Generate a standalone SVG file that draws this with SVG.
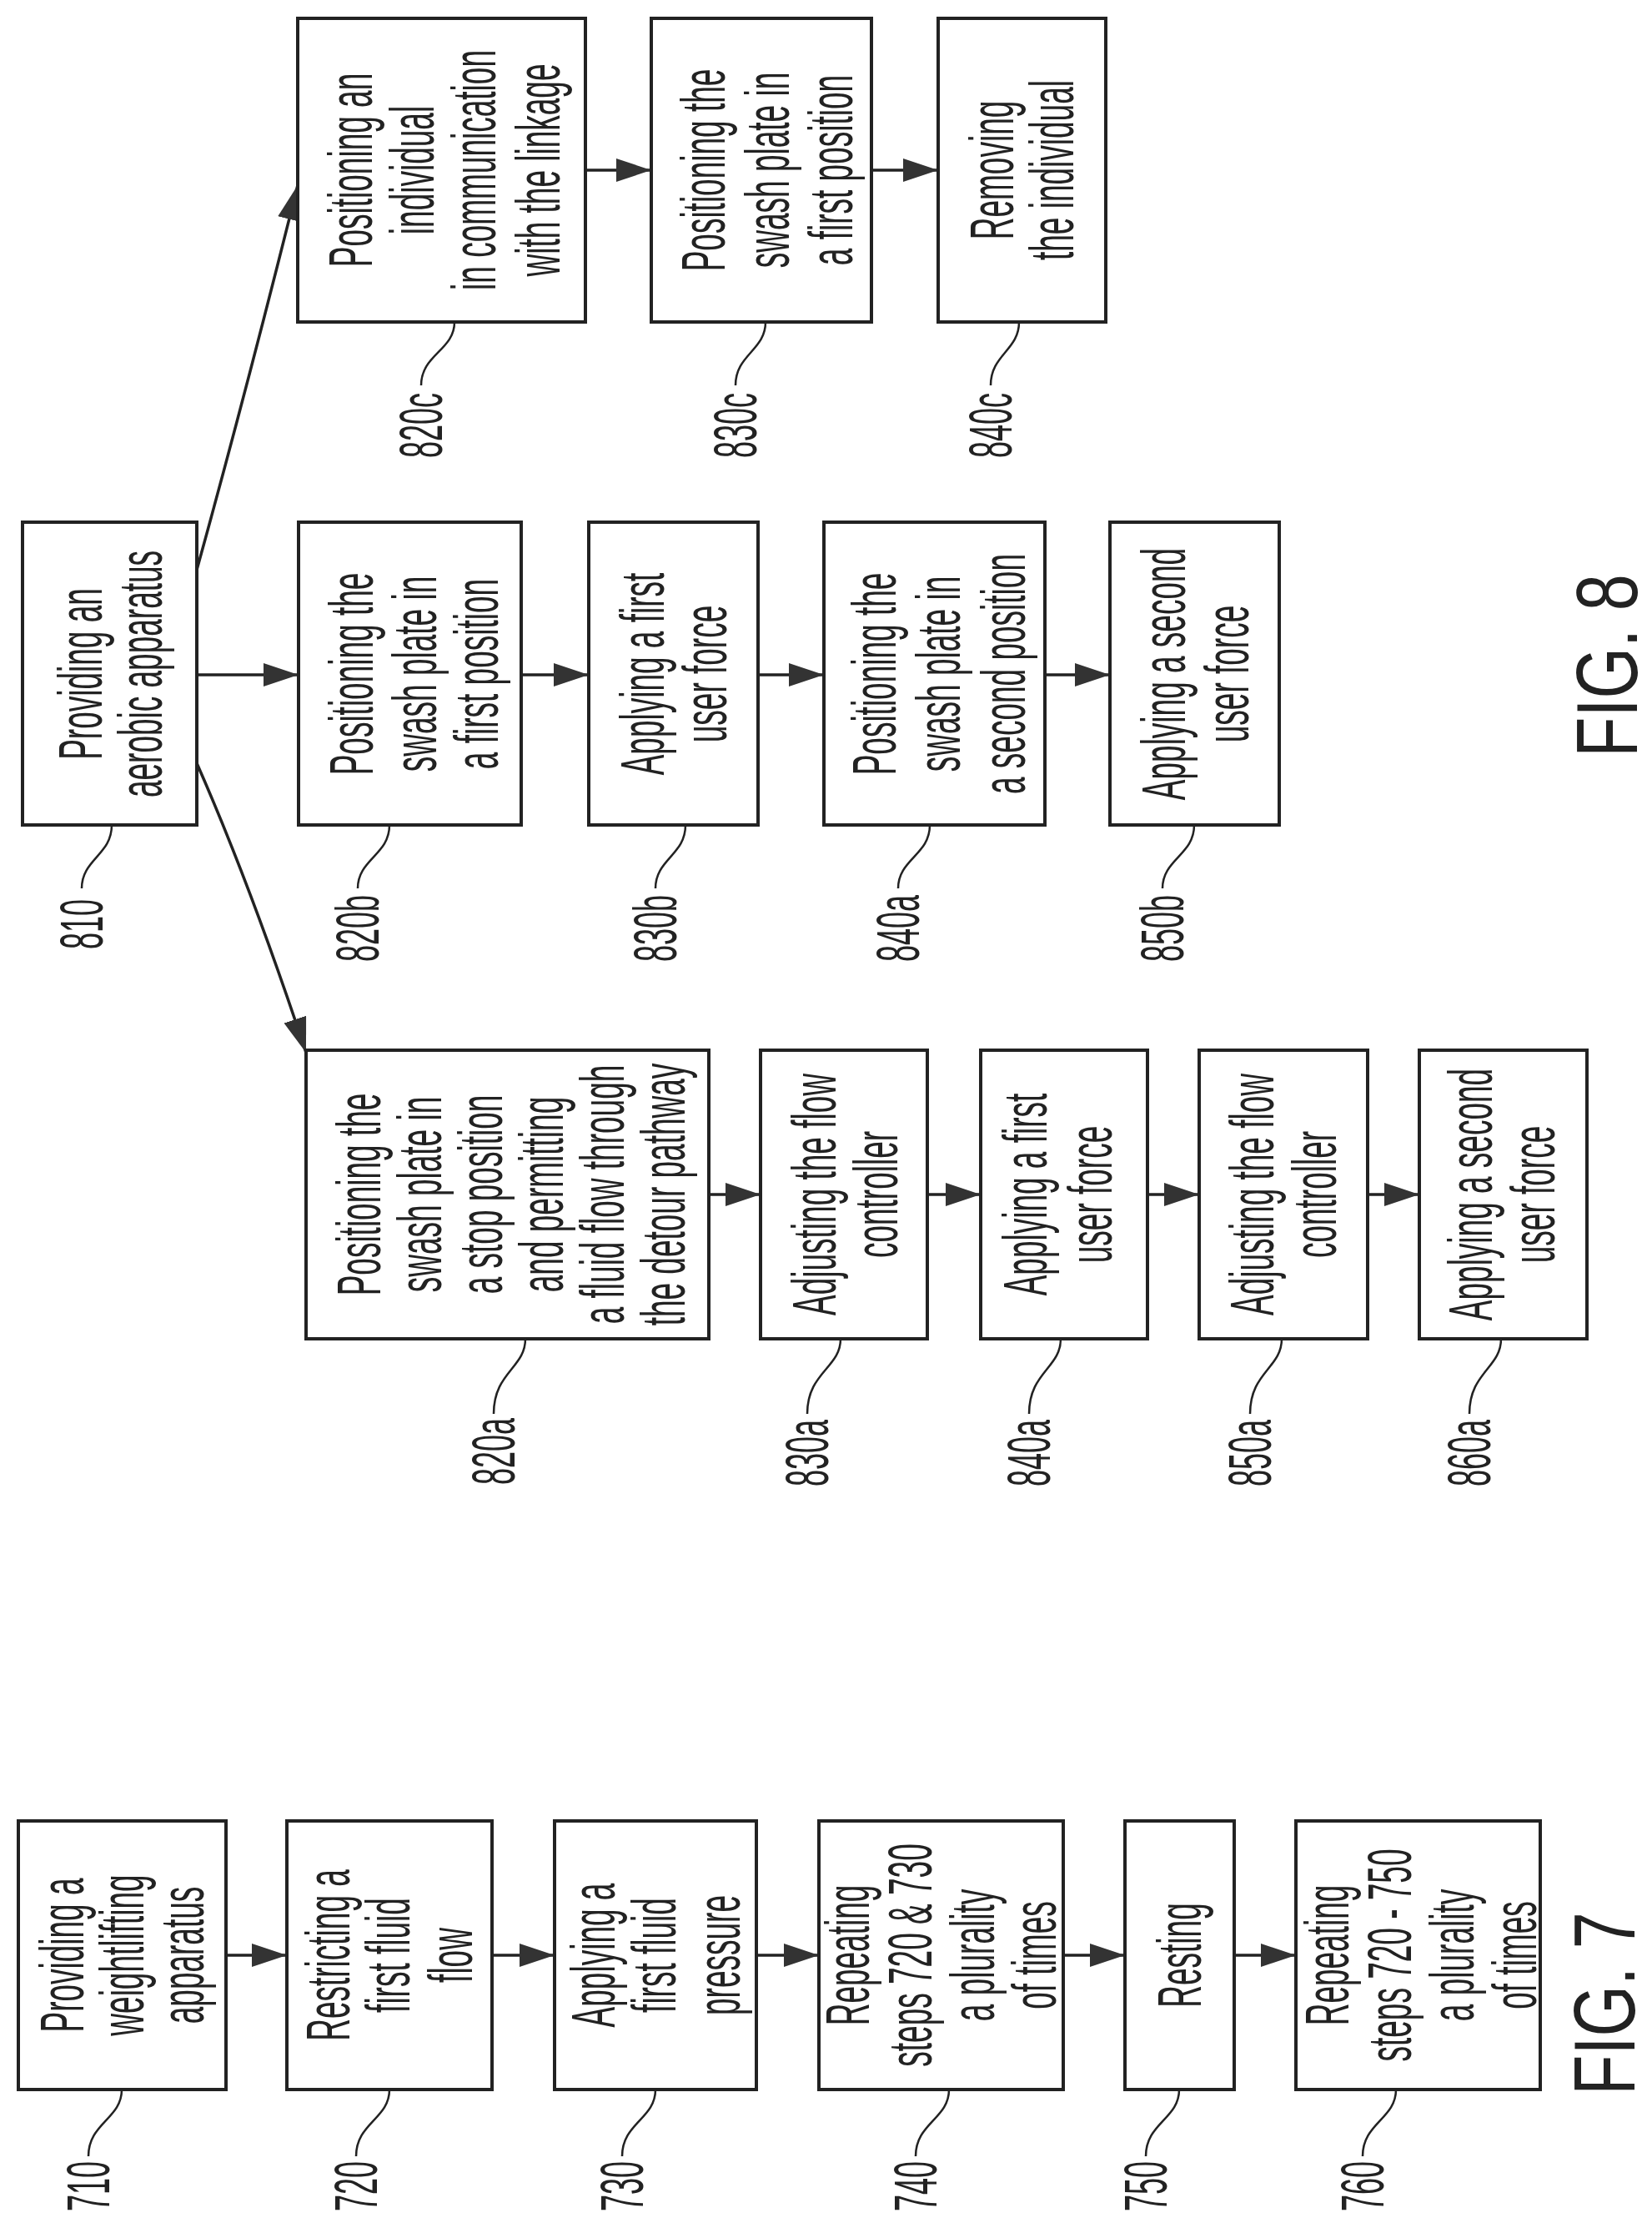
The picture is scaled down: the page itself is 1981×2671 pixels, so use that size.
<svg xmlns="http://www.w3.org/2000/svg" width="1981" height="2671" viewBox="0 0 1981 2671">
<style>
.b{fill:#fff;stroke:#222;stroke-width:4}
.t{font-family:"Liberation Sans",Arial,sans-serif;font-size:74px;fill:#222;text-anchor:middle;dominant-baseline:central}
.l{font-family:"Liberation Sans",Arial,sans-serif;font-size:72px;fill:#222;text-anchor:middle;dominant-baseline:central}
.f{font-family:"Liberation Sans",Arial,sans-serif;font-size:104px;fill:#222;text-anchor:middle;dominant-baseline:central}
.c{fill:none;stroke:#222;stroke-width:3.5}
.ld{fill:none;stroke:#222;stroke-width:2.5}
</style>
<defs>
<marker id="ah" markerUnits="userSpaceOnUse" markerWidth="44" markerHeight="30" refX="42" refY="14" orient="auto">
<path d="M0,0 L42,14 L0,28 Z" fill="#333"/>
</marker>
</defs>
<rect width="1981" height="2671" fill="#fff"/>
<g id="connectors">
<path class="c" marker-end="url(#ah)" d="M271 2344 H344"/>
<path class="c" marker-end="url(#ah)" d="M590 2344 H665"/>
<path class="c" marker-end="url(#ah)" d="M907 2344 H982"/>
<path class="c" marker-end="url(#ah)" d="M1275 2344 H1349"/>
<path class="c" marker-end="url(#ah)" d="M1480 2344 H1554"/>
<path class="c" marker-end="url(#ah)" d="M236 809 H358"/>
<path class="c" marker-end="url(#ah)" d="M625 809 H706"/>
<path class="c" marker-end="url(#ah)" d="M909 809 H988"/>
<path class="c" marker-end="url(#ah)" d="M1253 809 H1331"/>
<path class="c" marker-end="url(#ah)" d="M702 204 H781"/>
<path class="c" marker-end="url(#ah)" d="M1045 204 H1125"/>
<path class="c" marker-end="url(#ah)" d="M850 1432 H912"/>
<path class="c" marker-end="url(#ah)" d="M1112 1432 H1176"/>
<path class="c" marker-end="url(#ah)" d="M1376 1432 H1438"/>
<path class="c" marker-end="url(#ah)" d="M1640 1432 H1702"/>
<path class="c" marker-end="url(#ah)" d="M236 683 Q295 470 357 222"/>
<path class="c" marker-end="url(#ah)" d="M236 915 Q300 1060 367 1262"/>
</g>
<g id="n710"><rect class="b" x="22" y="2183" width="249" height="322"/>
<text class="t" transform="translate(74,2344) rotate(-90) scale(0.5,1)">Providing a</text>
<text class="t" transform="translate(146,2344) rotate(-90) scale(0.5,1)">weightlifting</text>
<text class="t" transform="translate(218,2344) rotate(-90) scale(0.5,1)">apparatus</text>
<path class="ld" d="M146 2505 C146 2540 106 2545 106 2585"/>
<text class="l" transform="translate(106,2621) rotate(-90) scale(0.5,1)">710</text></g>
<g id="n720"><rect class="b" x="344" y="2183" width="246" height="322"/>
<text class="t" transform="translate(393,2344) rotate(-90) scale(0.5,1)">Restricting a</text>
<text class="t" transform="translate(465,2344) rotate(-90) scale(0.5,1)">first fluid</text>
<text class="t" transform="translate(540,2344) rotate(-90) scale(0.5,1)">flow</text>
<path class="ld" d="M467 2505 C467 2540 427 2545 427 2585"/>
<text class="l" transform="translate(427,2621) rotate(-90) scale(0.5,1)">720</text></g>
<g id="n730"><rect class="b" x="665" y="2183" width="242" height="322"/>
<text class="t" transform="translate(711,2344) rotate(-90) scale(0.5,1)">Applying a</text>
<text class="t" transform="translate(784,2344) rotate(-90) scale(0.5,1)">first fluid</text>
<text class="t" transform="translate(861,2344) rotate(-90) scale(0.5,1)">pressure</text>
<path class="ld" d="M786 2505 C786 2540 746 2545 746 2585"/>
<text class="l" transform="translate(746,2621) rotate(-90) scale(0.5,1)">730</text></g>
<g id="n740"><rect class="b" x="982" y="2183" width="293" height="322"/>
<text class="t" transform="translate(1016,2344) rotate(-90) scale(0.5,1)">Repeating</text>
<text class="t" transform="translate(1091,2344) rotate(-90) scale(0.5,1)">steps 720 &amp; 730</text>
<text class="t" transform="translate(1166,2344) rotate(-90) scale(0.5,1)">a plurality</text>
<text class="t" transform="translate(1240,2344) rotate(-90) scale(0.5,1)">of times</text>
<path class="ld" d="M1138 2505 C1138 2540 1098 2545 1098 2585"/>
<text class="l" transform="translate(1098,2621) rotate(-90) scale(0.5,1)">740</text></g>
<g id="n750"><rect class="b" x="1349" y="2183" width="131" height="322"/>
<text class="t" transform="translate(1414,2344) rotate(-90) scale(0.5,1)">Resting</text>
<path class="ld" d="M1414 2505 C1414 2540 1374 2545 1374 2585"/>
<text class="l" transform="translate(1374,2621) rotate(-90) scale(0.5,1)">750</text></g>
<g id="n760"><rect class="b" x="1554" y="2183" width="293" height="322"/>
<text class="t" transform="translate(1591,2344) rotate(-90) scale(0.5,1)">Repeating</text>
<text class="t" transform="translate(1666,2344) rotate(-90) scale(0.5,1)">steps 720 - 750</text>
<text class="t" transform="translate(1741,2344) rotate(-90) scale(0.5,1)">a plurality</text>
<text class="t" transform="translate(1816,2344) rotate(-90) scale(0.5,1)">of times</text>
<path class="ld" d="M1674 2505 C1674 2540 1634 2545 1634 2585"/>
<text class="l" transform="translate(1634,2621) rotate(-90) scale(0.5,1)">760</text></g>
<text class="f" transform="translate(1924,2402) rotate(-90) scale(0.76,1)">FIG. 7</text>
<g id="n810"><rect class="b" x="27" y="626" width="209" height="363"/>
<text class="t" transform="translate(96,808) rotate(-90) scale(0.5,1)">Providing an</text>
<text class="t" transform="translate(168,808) rotate(-90) scale(0.5,1)">aerobic apparatus</text>
<path class="ld" d="M134 989 C134 1025 98 1030 98 1065"/>
<text class="l" transform="translate(98,1108) rotate(-90) scale(0.5,1)">810</text></g>
<g id="n820b"><rect class="b" x="358" y="626" width="267" height="363"/>
<text class="t" transform="translate(421,808) rotate(-90) scale(0.5,1)">Positioning the</text>
<text class="t" transform="translate(497,808) rotate(-90) scale(0.5,1)">swash plate in</text>
<text class="t" transform="translate(571,808) rotate(-90) scale(0.5,1)">a first position</text>
<path class="ld" d="M467 989 C467 1025 429 1030 429 1065"/>
<text class="l" transform="translate(429,1113) rotate(-90) scale(0.5,1)">820b</text></g>
<g id="n830b"><rect class="b" x="706" y="626" width="203" height="363"/>
<text class="t" transform="translate(770,808) rotate(-90) scale(0.5,1)">Applying a first</text>
<text class="t" transform="translate(845,808) rotate(-90) scale(0.5,1)">user force</text>
<path class="ld" d="M822 989 C822 1025 786 1030 786 1065"/>
<text class="l" transform="translate(786,1113) rotate(-90) scale(0.5,1)">830b</text></g>
<g id="n840b"><rect class="b" x="988" y="626" width="265" height="363"/>
<text class="t" transform="translate(1048,808) rotate(-90) scale(0.5,1)">Positioning the</text>
<text class="t" transform="translate(1125,808) rotate(-90) scale(0.5,1)">swash plate in</text>
<text class="t" transform="translate(1203,808) rotate(-90) scale(0.5,1)">a second position</text>
<path class="ld" d="M1115 989 C1115 1025 1077 1030 1077 1065"/>
<text class="l" transform="translate(1077,1113) rotate(-90) scale(0.5,1)">840a</text></g>
<g id="n850b"><rect class="b" x="1331" y="626" width="203" height="363"/>
<text class="t" transform="translate(1395,808) rotate(-90) scale(0.5,1)">Applying a second</text>
<text class="t" transform="translate(1471,808) rotate(-90) scale(0.5,1)">user force</text>
<path class="ld" d="M1432 989 C1432 1025 1394 1030 1394 1065"/>
<text class="l" transform="translate(1394,1113) rotate(-90) scale(0.5,1)">850b</text></g>
<g id="n820a"><rect class="b" x="367" y="1259" width="483" height="346"/>
<text class="t" transform="translate(430,1432) rotate(-90) scale(0.5,1)">Positioning the</text>
<text class="t" transform="translate(503,1432) rotate(-90) scale(0.5,1)">swash plate in</text>
<text class="t" transform="translate(576,1432) rotate(-90) scale(0.5,1)">a stop position</text>
<text class="t" transform="translate(649,1432) rotate(-90) scale(0.5,1)">and permitting</text>
<text class="t" transform="translate(722,1432) rotate(-90) scale(0.5,1)">a fluid flow through</text>
<text class="t" transform="translate(795,1432) rotate(-90) scale(0.5,1)">the detour pathway</text>
<path class="ld" d="M630 1605 C630 1640 592 1645 592 1695"/>
<text class="l" transform="translate(592,1740) rotate(-90) scale(0.5,1)">820a</text></g>
<g id="n830a"><rect class="b" x="912" y="1259" width="200" height="346"/>
<text class="t" transform="translate(976,1432) rotate(-90) scale(0.5,1)">Adjusting the flow</text>
<text class="t" transform="translate(1050,1432) rotate(-90) scale(0.5,1)">controller</text>
<path class="ld" d="M1008 1605 C1008 1640 968 1645 968 1695"/>
<text class="l" transform="translate(968,1742) rotate(-90) scale(0.5,1)">830a</text></g>
<g id="n840a"><rect class="b" x="1176" y="1259" width="200" height="346"/>
<text class="t" transform="translate(1229,1432) rotate(-90) scale(0.5,1)">Applying a first</text>
<text class="t" transform="translate(1307,1432) rotate(-90) scale(0.5,1)">user force</text>
<path class="ld" d="M1272 1605 C1272 1640 1234 1645 1234 1695"/>
<text class="l" transform="translate(1234,1742) rotate(-90) scale(0.5,1)">840a</text></g>
<g id="n850a"><rect class="b" x="1438" y="1259" width="202" height="346"/>
<text class="t" transform="translate(1501,1432) rotate(-90) scale(0.5,1)">Adjusting the flow</text>
<text class="t" transform="translate(1576,1432) rotate(-90) scale(0.5,1)">controller</text>
<path class="ld" d="M1537 1605 C1537 1640 1499 1645 1499 1695"/>
<text class="l" transform="translate(1499,1742) rotate(-90) scale(0.5,1)">850a</text></g>
<g id="n860a"><rect class="b" x="1702" y="1259" width="201" height="346"/>
<text class="t" transform="translate(1763,1432) rotate(-90) scale(0.5,1)">Applying a second</text>
<text class="t" transform="translate(1838,1432) rotate(-90) scale(0.5,1)">user force</text>
<path class="ld" d="M1800 1605 C1800 1640 1762 1645 1762 1695"/>
<text class="l" transform="translate(1762,1742) rotate(-90) scale(0.5,1)">860a</text></g>
<g id="n820c"><rect class="b" x="357" y="22" width="345" height="364"/>
<text class="t" transform="translate(420,204) rotate(-90) scale(0.5,1)">Positioning an</text>
<text class="t" transform="translate(494,204) rotate(-90) scale(0.5,1)">individual</text>
<text class="t" transform="translate(568,204) rotate(-90) scale(0.5,1)">in communication</text>
<text class="t" transform="translate(645,204) rotate(-90) scale(0.5,1)">with the linkage</text>
<path class="ld" d="M545 386 C545 420 505 425 505 462"/>
<text class="l" transform="translate(505,510) rotate(-90) scale(0.5,1)">820c</text></g>
<g id="n830c"><rect class="b" x="781" y="22" width="264" height="364"/>
<text class="t" transform="translate(843,204) rotate(-90) scale(0.5,1)">Positioning the</text>
<text class="t" transform="translate(920,204) rotate(-90) scale(0.5,1)">swash plate in</text>
<text class="t" transform="translate(996,204) rotate(-90) scale(0.5,1)">a first position</text>
<path class="ld" d="M918 386 C918 420 882 425 882 462"/>
<text class="l" transform="translate(882,510) rotate(-90) scale(0.5,1)">830c</text></g>
<g id="n840c"><rect class="b" x="1125" y="22" width="201" height="364"/>
<text class="t" transform="translate(1189,204) rotate(-90) scale(0.5,1)">Removing</text>
<text class="t" transform="translate(1261,204) rotate(-90) scale(0.5,1)">the individual</text>
<path class="ld" d="M1222 386 C1222 420 1188 425 1188 462"/>
<text class="l" transform="translate(1188,510) rotate(-90) scale(0.5,1)">840c</text></g>
<text class="f" transform="translate(1927,798) rotate(-90) scale(0.76,1)">FIG. 8</text>
</svg>
